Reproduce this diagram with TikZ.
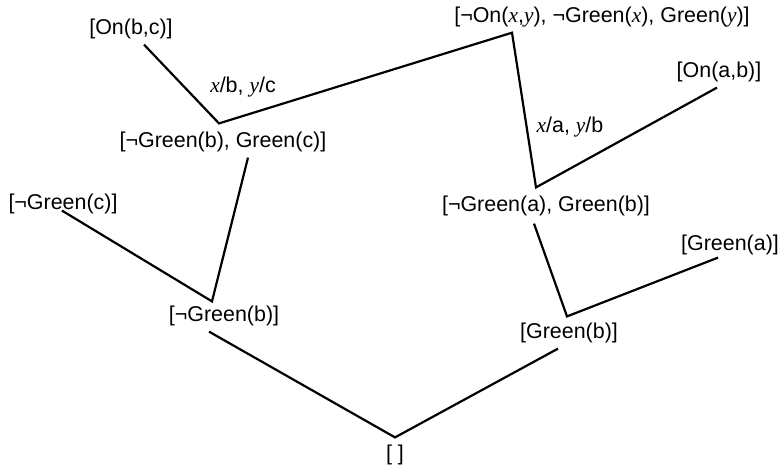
\documentclass[tikz,border=0pt]{standalone}
\usepackage{fontspec}
\setmainfont{Liberation Sans}
\newfontfamily\tms{Liberation Serif}
\newcommand{\vr}[1]{{\tms\itshape #1}}
\usetikzlibrary{calc}

\begin{document}
\begin{tikzpicture}[x=0.02cm,y=-0.02cm,
		clause/.style={inner sep=3pt,font=\fontsize{12.2}{14}\selectfont},
		subst/.style={inner sep=1pt,font=\fontsize{12.2}{14}\selectfont},
		edge/.style={line width=1.25pt}]
		\useasboundingbox (0,0) rectangle (780,467);
		% clauses
		\node[clause] (top) at (602,17) {[¬On(\vr{x},\vr{y}), ¬Green(\vr{x}), Green(\vr{y})]};
		\node[clause] (onbc) at (131,29) {[On(b,c)]};
		\node[clause] (onab) at (719,72) {[On(a,b)]};
		\node[clause] (gbgc) at (223,142) {[¬Green(b), Green(c)]};
		\node[clause] (gagb) at (546,206) {[¬Green(a), Green(b)]};
		\node[clause] (gc) at (63,204) {[¬Green(c)]};
		\node[clause] (ga) at (730,245) {[Green(a)]};
		\node[clause] (nb) at (224,316) {[¬Green(b)]};
		\node[clause] (gb) at (569,333) {[Green(b)]};
		\node[clause] (empty) at (395,455) {[ ]};
		% substitutions
		\node[subst] (s1) at (243,87) {\vr{x}/b, \vr{y}/c};
		\node[subst] (s2) at (570,127) {\vr{x}/a, \vr{y}/b};
		% resolution steps
		\draw[edge] ($(onbc.south)+(13,0)$) -- ($(gbgc.north)+(-4,-3)$) -- ($(top.south)+(-90,0)$) -- ($(gagb.north)+(-10,-3)$) -- ($(onab.south)+(-2,0)$);
		\draw[edge] ($(gbgc.south)+(25,0)$) -- ($(nb.north)+(-12,1)$) -- ($(gc.south)+(-1,-9)$);
		\draw[edge] ($(gagb.south)+(-12,2)$) -- ($(gb.north)+(-2,-1)$) -- ($(ga.south)+(-12,-3)$);
		\draw[edge] ($(nb.south)+(-15,0)$) -- ($(empty.north)+(0,-2)$) -- ($(gb.south)+(-11,0)$);
\end{tikzpicture}
\end{document}
